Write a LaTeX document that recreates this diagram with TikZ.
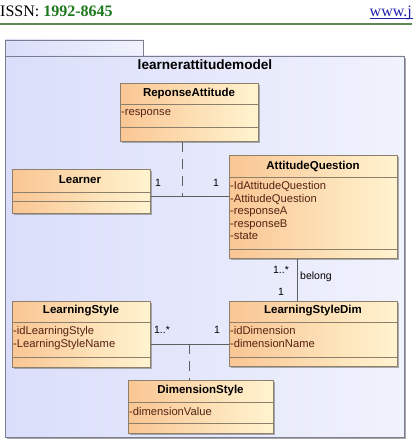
\documentclass[tikz,border=0pt]{standalone}
\usepackage{fontspec}
\setmainfont{Liberation Serif}
\newfontfamily\umlfont{Liberation Sans}
\usetikzlibrary{shadows}
\definecolor{pkgleft}{RGB}{218,222,250}
\definecolor{pkgright}{RGB}{240,242,252}
\definecolor{pkgborder}{RGB}{125,125,145}
\definecolor{clsleft}{RGB}{250,198,148}
\definecolor{clsright}{RGB}{255,244,208}
\definecolor{clsborder}{RGB}{140,128,108}
\definecolor{attrtext}{RGB}{85,35,20}
\definecolor{linkgray}{RGB}{95,95,95}
\definecolor{issngreen}{RGB}{30,120,30}
\definecolor{rulegreen}{RGB}{95,135,85}
\definecolor{urlblue}{RGB}{30,30,170}
\tikzset{
  classbox/.style={draw=clsborder, line width=0.8pt, left color=clsleft,
    right color=clsright, anchor=north west, inner sep=0pt,
    drop shadow={shadow xshift=2pt, shadow yshift=-2pt, fill=black!45, opacity=0.7}},
  divline/.style={draw=clsborder, line width=0.8pt},
  clsname/.style={anchor=base, inner sep=0pt, font=\umlfont\bfseries\fontsize{11.5}{13}\selectfont},
  clsattr/.style={anchor=north west, inner sep=0pt, align=left, text=attrtext,
    font=\umlfont\fontsize{11.2}{12.5}\selectfont},
  mult/.style={inner sep=0pt, font=\umlfont\fontsize{10.5}{12}\selectfont},
  assoc/.style={draw=linkgray, line width=1pt},
  dashlink/.style={draw=linkgray, line width=0.9pt, dash pattern=on 10pt off 7pt}
}
\begin{document}
\begin{tikzpicture}[x=1pt,y=-1pt]
\useasboundingbox (0,0) rectangle (412,444);
\node[anchor=base west, inner sep=0pt, font=\fontsize{16}{18}\selectfont] (issn) at (0,16.5)
   {ISSN: \textcolor{issngreen}{\bfseries 1992-8645}};
\node[anchor=base east, inner sep=0pt, text=urlblue, font=\fontsize{16}{18}\selectfont] (www) at (412,16.5) {www.j};
\draw[urlblue, line width=0.7pt] (www.base west) ++(0,2) -- ++(46,0);
\draw[rulegreen, line width=1.2pt] (0,24) -- (412,24);
\fill[black!35] (7,58) rectangle (406,439);
\fill[left color=pkgleft, right color=pkgright] (5,40) rectangle (143,56);
\fill[left color=pkgleft, right color=pkgright] (5,56) rectangle (404,437);
\draw[pkgborder, line width=0.8pt] (5,56) -- (5,40) -- (143,40) -- (143,56);
\draw[pkgborder, line width=0.8pt] (5,56) rectangle (404,437);
\node[anchor=base, inner sep=0pt, font=\umlfont\bfseries\fontsize{13.6}{15}\selectfont] (pkgtitle)
   at (205,69.5) {learnerattitudemodel};
\node[classbox, minimum width=138pt, minimum height=58pt] (reponse) at (120,83) {};
\node[classbox, minimum width=138pt, minimum height=44pt] (learner) at (12,169) {};
\node[classbox, minimum width=168pt, minimum height=103pt] (question) at (229,155) {};
\node[classbox, minimum width=138pt, minimum height=66pt] (style) at (12,301) {};
\node[classbox, minimum width=168pt, minimum height=65pt] (styledim) at (229,301) {};
\node[classbox, minimum width=145pt, minimum height=53pt] (dimstyle) at (128,380) {};
\draw[divline] (120,104) -- (258,104) (120,127) -- (258,127);
\draw[divline] (12,192) -- (150,192) (12,201) -- (150,201);
\draw[divline] (229,177) -- (397,177) (229,249) -- (397,249);
\draw[divline] (12,322) -- (150,322) (12,357) -- (150,357);
\draw[divline] (229,322) -- (397,322) (229,357) -- (397,357);
\draw[divline] (128,402) -- (273,402) (128,423) -- (273,423);
\node[clsname] (reponse-name) at (189,96) {ReponseAttitude};
\node[clsname] (learner-name) at (80,183) {Learner};
\node[clsname] (question-name) at (313,169) {AttitudeQuestion};
\node[clsname] (style-name) at (81,313) {LearningStyle};
\node[clsname] (styledim-name) at (313,313) {LearningStyleDim};
\node[clsname] (dimstyle-name) at (200.5,393) {DimensionStyle};
\node[clsattr] (reponse-attr) at (121,109.5) {-response};
\node[clsattr] (question-attr) at (230,181.5)
   {-IdAttitudeQuestion\\-AttitudeQuestion\\-responseA\\-responseB\\-state};
\node[clsattr] (style-attr) at (13,326.5) {-idLearningStyle\\-LearningStyleName};
\node[clsattr] (styledim-attr) at (230,326.5) {-idDimension\\-dimensionName};
\node[clsattr] (dimstyle-attr) at (129,407.5) {-dimensionValue};
\coordinate (assoc1) at (182,196);
\coordinate (assoc2) at (189,344);
\coordinate (belongx) at (297,280);
\draw[assoc] (assoc1 -| learner.east) -- (assoc1 -| question.west);
\draw[dashlink] (assoc1 |- reponse.south) -- (assoc1);
\draw[assoc] (belongx |- question.south) -- (belongx |- styledim.north);
\draw[assoc] (assoc2 -| style.east) -- (assoc2 -| styledim.west);
\draw[dashlink] (assoc2) -- (assoc2 |- dimstyle.north);
\node[mult] (m1) at (158,183) {1};
\node[mult] (m2) at (216,183) {1};
\node[mult] (m3) at (281,270) {1..*};
\node[mult, anchor=west] (belong) at (300,277) {belong};
\node[mult] (m4) at (281,292) {1};
\node[mult] (m5) at (162,330) {1..*};
\node[mult] (m6) at (217,330) {1};
\end{tikzpicture}
\end{document}
